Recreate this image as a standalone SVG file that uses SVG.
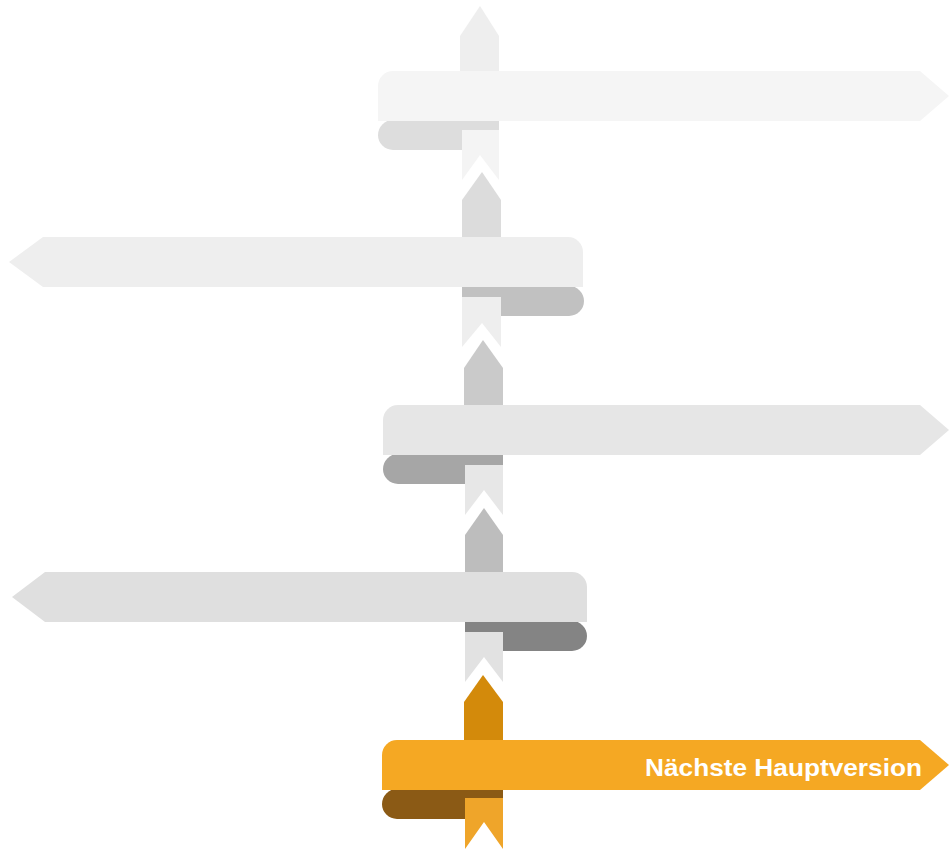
<svg xmlns="http://www.w3.org/2000/svg" width="949" height="849" viewBox="0 0 949 849">
<style>
.lbl{font-family:"Liberation Sans","DejaVu Sans",sans-serif;font-weight:bold;font-size:24px;fill:#ffffff}
</style>
<rect width="949" height="849" fill="#ffffff"/>
<g id="connectors">
<polygon points="480,6 499,36 499,72 460,72 460,36" fill="#eeeeee"/>
<polygon points="482,172 501,200 501,238 462,238 462,200" fill="#dcdcdc"/>
<polygon points="483,340 503,368 503,406 464,406 464,368" fill="#cacaca"/>
<polygon points="484,508 503,535 503,573 465,573 465,535" fill="#bdbdbd"/>
<polygon points="483,675 503,702 503,741 464,741 464,702" fill="#d38a0b"/>
</g>
<g id="level1">
<path d="M393,120 L499,120 L499,150 L393,150 A15,15 0 0 1 393,120 Z" fill="#dddddd"/>
<polygon points="462,130 499,130 499,180 480,155 462,180" fill="#f4f4f4"/>
<path d="M378,121 L378,86 A15,15 0 0 1 393,71 L920,71 L949,96 L920,121 Z" fill="#f5f5f5"/>
</g>
<g id="level2">
<path d="M462,286 L569,286 A15,15 0 0 1 569,316 L462,316 Z" fill="#c1c1c1"/>
<polygon points="462,297 501,297 501,347 482,323 462,347" fill="#eeeeee"/>
<path d="M583,287 L583,252 A15,15 0 0 0 568,237 L43,237 L9,262 L43,287 Z" fill="#eeeeee"/>
</g>
<g id="level3">
<path d="M398,454 L503,454 L503,484 L398,484 A15,15 0 0 1 398,454 Z" fill="#a6a6a6"/>
<polygon points="465,465 503,465 503,515 484,490 465,515" fill="#e7e7e7"/>
<path d="M383,455 L383,420 A15,15 0 0 1 398,405 L920,405 L949,430 L920,455 Z" fill="#e6e6e6"/>
</g>
<g id="level4">
<path d="M465,621 L572,621 A15,15 0 0 1 572,651 L465,651 Z" fill="#848484"/>
<polygon points="465,632 503,632 503,682 484,657 465,682" fill="#e2e2e2"/>
<path d="M587,622 L587,587 A15,15 0 0 0 572,572 L45,572 L12,597 L45,622 Z" fill="#dfdfdf"/>
</g>
<g id="level5">
<path d="M397,789 L503,789 L503,819 L397,819 A15,15 0 0 1 397,789 Z" fill="#8b5a15"/>
<polygon points="465,798 503,798 503,849 484,822 465,849" fill="#efa52a"/>
<path d="M382,790 L382,755 A15,15 0 0 1 397,740 L920,740 L949,765 L920,790 Z" fill="#f5a823"/>
<text class="lbl" x="922" y="776" text-anchor="end" textLength="277" lengthAdjust="spacingAndGlyphs">Nächste Hauptversion</text>
</g>
</svg>
